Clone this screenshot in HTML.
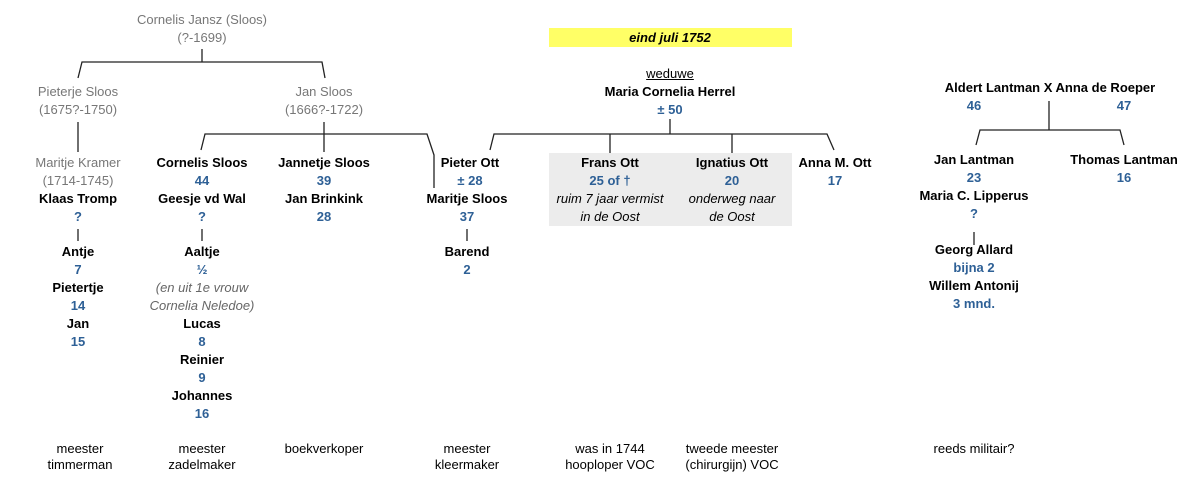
<!DOCTYPE html>
<html><head><meta charset="utf-8"><style>
body{margin:0;width:1200px;height:480px;background:#fff;position:relative;overflow:hidden;font-family:"Liberation Sans",sans-serif;font-size:13px}
.t{position:absolute;width:240px;text-align:center;line-height:18px;color:#000;white-space:nowrap}
.g{color:#777}.b{font-weight:bold}.n{color:#2e6096;font-weight:bold}.i{font-style:italic}.gi{color:#666;font-style:italic}
svg{position:absolute;left:0;top:0}
</style></head><body>
<div style="position:absolute;left:549px;top:28px;width:243px;height:19px;background:#ffff66"></div>
<div style="position:absolute;left:549px;top:153px;width:243px;height:73px;background:#ececec"></div>
<svg width="1200" height="480" fill="none" stroke="#222" stroke-width="1.3">
<path d="M202 49V62M78 78L82 62H322L325 78M78 122V152M324 122V152M201 150L205 134H427L434 155V188M78 229V241M202 229V241M467 229V241"/>
<path d="M670 119V134M490 150L494 134H827L834 150M610 134V153M732 134V153"/>
<path d="M1049 101V130M976 145L980 130H1120L1124 145M974 232V245"/>
</svg>
<script>
const items=[
[202,20,'g','Cornelis Jansz (Sloos)'],[202,38,'g','(?-1699)'],
[78,92,'g','Pieterje Sloos'],[78,110,'g','(1675?-1750)'],[324,92,'g','Jan Sloos'],[324,110,'g','(1666?-1722)'],
[78,163,'g','Maritje Kramer'],[78,181,'g','(1714-1745)'],[78,199,'b','Klaas Tromp'],[78,217,'n','?'],
[78,252,'b','Antje'],[78,270,'n','7'],[78,288,'b','Pietertje'],[78,306,'n','14'],[78,324,'b','Jan'],[78,342,'n','15'],
[202,163,'b','Cornelis Sloos'],[202,181,'n','44'],[202,199,'b','Geesje vd Wal'],[202,217,'n','?'],
[202,252,'b','Aaltje'],[202,270,'n','½'],[202,288,'gi','(en uit 1e vrouw'],[202,306,'gi','Cornelia Neledoe)'],
[202,324,'b','Lucas'],[202,342,'n','8'],[202,360,'b','Reinier'],[202,378,'n','9'],[202,396,'b','Johannes'],[202,414,'n','16'],
[324,163,'b','Jannetje Sloos'],[324,181,'n','39'],[324,199,'b','Jan Brinkink'],[324,217,'n','28'],
[467,199,'b','Maritje Sloos'],[467,217,'n','37'],[467,252,'b','Barend'],[467,270,'n','2'],
[470,163,'b','Pieter Ott'],[470,181,'n','± 28'],
[610,163,'b','Frans Ott'],[610,181,'n','25 of †'],[610,199,'i','ruim 7 jaar vermist'],[610,217,'i','in de Oost'],
[732,163,'b','Ignatius Ott'],[732,181,'n','20'],[732,199,'i','onderweg naar'],[732,217,'i','de Oost'],
[835,163,'b','Anna M. Ott'],[835,181,'n','17'],
[670,38,'b i','eind juli 1752'],[670,74,'u','weduwe'],[670,92,'b','Maria Cornelia Herrel'],[670,110,'n','± 50'],
[1050,88,'b','Aldert Lantman X Anna de Roeper'],[974,106,'n','46'],[1124,106,'n','47'],
[974,160,'b','Jan Lantman'],[974,178,'n','23'],[1124,160,'b','Thomas Lantman'],[1124,178,'n','16'],
[974,196,'b','Maria C. Lipperus'],[974,214,'n','?'],[974,250,'b','Georg Allard'],[974,268,'n','bijna 2'],[974,286,'b','Willem Antonij'],[974,304,'n','3 mnd.'],
[80,449,'','meester'],[80,465,'','timmerman'],[202,449,'','meester'],[202,465,'','zadelmaker'],[324,449,'','boekverkoper'],
[467,449,'','meester'],[467,465,'','kleermaker'],[610,449,'','was in 1744'],[610,465,'','hooploper VOC'],
[732,449,'','tweede meester'],[732,465,'','(chirurgijn) VOC'],[974,449,'','reeds militair?']
];
for(const [x,y,c,s] of items){const d=document.createElement('div');d.className='t '+c;d.style.left=(x-120)+'px';d.style.top=(y-9)+'px';d.textContent=s;if(c==='u')d.style.textDecoration='underline';document.body.appendChild(d);}
</script>
</body></html>
